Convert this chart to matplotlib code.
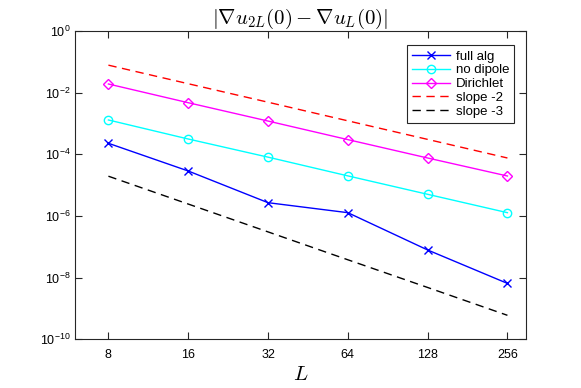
import math
import matplotlib
matplotlib.use("Agg")
import matplotlib.pyplot as plt
from matplotlib.ticker import FixedLocator, FuncFormatter, NullLocator

plt.rcParams['font.family'] = ['Liberation Sans', 'DejaVu Sans']

# values
L = [8, 16, 32, 64, 128, 256]
full_alg = [2.28e-4, 2.88e-5, 2.7e-6, 1.28e-6, 7.9e-8, 6.5e-9]
no_dipole = [1.3e-3, 3.14e-4, 8.1e-5, 2.0e-5, 5.05e-6, 1.28e-6]
dirichlet = [1.91e-2, 4.72e-3, 1.2e-3, 3.0e-4, 7.6e-5, 1.98e-5]
slope2 = [7.8e-2, 1.95e-2, 4.9e-3, 1.22e-3, 3.05e-4, 7.6e-5]
slope3 = [1.95e-5, 2.44e-6, 3.05e-7, 3.8e-8, 4.8e-9, 6.0e-10]

fig = plt.figure(figsize=(5.81, 3.88), dpi=100)
fig.subplots_adjust(left=0.1296, right=0.9048, top=0.9201, bottom=0.1255)
ax = fig.add_subplot(111)

ax.loglog(L, full_alg, '-x', color='#0000ff', lw=1, ms=6, mew=1, label='full alg')
ax.loglog(L, no_dipole, '-o', color='#00ffff', lw=1, ms=6, mew=1, mfc='none', label='no dipole')
ax.loglog(L, dirichlet, '-D', color='#ff00ff', lw=1, ms=5, mew=1, mfc='none', label='Dirichlet')
ax.loglog(L, slope2, '--', color='#ff0000', lw=1, dashes=(6, 4), label='slope -2')
ax.loglog(L, slope3, '--', color='k', lw=1, dashes=(6, 4), label='slope -3')

ax.set_xlim(6, 300)
ax.set_ylim(1e-10, 1)

ax.xaxis.set_major_locator(FixedLocator(L))
ax.xaxis.set_major_formatter(FuncFormatter(lambda v, p: '%d' % v))
ax.xaxis.set_minor_locator(NullLocator())
ax.yaxis.set_major_locator(FixedLocator([1e-10, 1e-8, 1e-6, 1e-4, 1e-2, 1]))
ax.yaxis.set_major_formatter(FuncFormatter(
    lambda v, p: r'$\mathregular{10^{%d}}$' % round(math.log10(v))))
ax.yaxis.set_minor_locator(NullLocator())

ax.tick_params(direction='in', which='both', top=True, right=True, length=5,
               width=0.8, labelsize=9, colors='0.15', labelcolor='k')
ax.tick_params(axis='x', pad=7)
for s in ax.spines.values():
    s.set_color('0.15')
    s.set_linewidth(0.8)

ax.set_title(r'$|\nabla u_{2L}(0) - \nabla u_L(0)|$', fontsize=15,
             math_fontfamily='cm', pad=5)
ax.set_xlabel(r'$L$', fontsize=15, math_fontfamily='cm', labelpad=3)

leg = ax.legend(loc='upper right', bbox_to_anchor=(0.9747, 0.9546),
                borderaxespad=0, fontsize=9.5, handlelength=2.9,
                labelspacing=0.12, borderpad=0.4, handletextpad=0.4,
                fancybox=False, framealpha=1)
leg.get_frame().set_edgecolor('0.15')
leg.get_frame().set_linewidth(0.8)

fig.savefig('out.png', dpi=100)
